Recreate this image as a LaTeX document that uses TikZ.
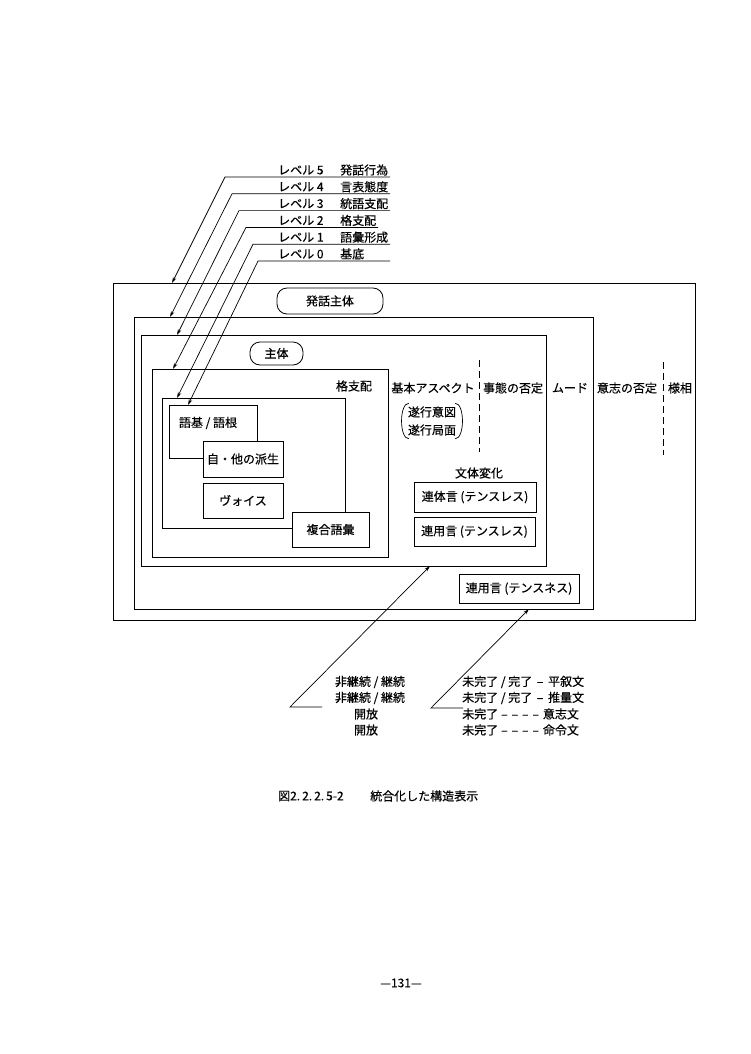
\documentclass[tikz,border=0pt]{standalone}
\usepackage{fontspec}
\setmainfont{Noto Sans CJK JP}[FakeBold=0.4]
\usetikzlibrary{arrows.meta}
\newcommand\jpsize{\fontsize{12}{14.5}\selectfont}
\newcommand\dashrow{\hspace{3pt}–\hspace{4pt}–\hspace{4pt}–\hspace{4pt}–\hspace{4pt}}
\tikzset{
  boxframe/.style={draw, line width=0.8pt, inner sep=0pt},
  wbox/.style={draw, fill=white, line width=0.8pt, inner sep=0pt},
  rbox/.style={draw, fill=white, rounded corners=10pt, line width=0.8pt, inner sep=0pt},
  txt/.style={inner sep=0pt},
  arr/.style={line width=0.7pt, -{Stealth[length=6pt,width=3.5pt]}},
  dsh/.style={line width=0.8pt, dash pattern=on 7pt off 4pt},
}
\begin{document}
\begin{tikzpicture}[x=1pt,y=-1pt,font=\jpsize]
\useasboundingbox[fill=white] (0,0) rectangle (750,1054);

% nested frames
\node[boxframe, minimum width=582, minimum height=337] (b5) at (404,451.5) {};
\node[boxframe, minimum width=459, minimum height=292] (b4) at (363.5,463) {};
\node[boxframe, minimum width=405, minimum height=231] (b3) at (343.5,450.5) {};
\node[boxframe, minimum width=236, minimum height=188] (b2) at (270,463) {};
\node[boxframe, minimum width=183, minimum height=130] (b1) at (253.5,463) {};
\node[boxframe, minimum width=88, minimum height=53] (b0) at (213,431.5) {};
\node[txt] (gokon) at (208,423) {語基 / 語根};
\node[wbox, minimum width=80, minimum height=36] (jita) at (243,459) {自・他の派生};
\node[wbox, minimum width=80, minimum height=35] (voice) at (243,500.5) {ヴォイス};
\node[wbox, minimum width=77, minimum height=35] (fukugo) at (330.5,529.5) {複合語彙};

\node[rbox, minimum width=106, minimum height=26] (hatsuwa) at (330,301) {発話主体};
\node[rbox, minimum width=53, minimum height=23] (shutai) at (276.5,353.5) {主体};
\node[txt] (kaku) at (354,386) {格支配};

% row of categories
\node[txt] (aspect) at (433,388) {基本アスペクト};
\node[txt] (jitai) at (513,388) {事態の否定};
\node[txt] (mood) at (570,388) {ムード};
\node[txt] (ishi) at (627,388) {意志の否定};
\node[txt] (yoso) at (680,388) {様相};
\draw[dsh] (479,360) -- (479,452);
\draw[dsh] (663,362) -- (663,455);

\node[txt, align=center, font=\fontsize{12}{18}\selectfont] (suikou) at (432,421) {遂行意図\\遂行局面};
\draw[line width=0.7pt] ([xshift=1pt,yshift=3pt]suikou.north west) to[out=180,in=180,looseness=0.7] ([xshift=1pt,yshift=-3pt]suikou.south west);
\draw[line width=0.7pt] ([xshift=-1pt,yshift=3pt]suikou.north east) to[out=0,in=0,looseness=0.7] ([xshift=-1pt,yshift=-3pt]suikou.south east);

\node[txt] (buntai) at (479,473) {文体変化};
\node[boxframe, minimum width=122, minimum height=30] (rentai) at (475,497) {連体言 (テンスレス)};
\node[boxframe, minimum width=121, minimum height=29] (renyo1) at (474.5,531.5) {連用言 (テンスレス)};
\node[boxframe, minimum width=120, minimum height=29] (renyo2) at (519,588.5) {連用言 (テンスネス)};

% level labels
\node[txt, anchor=west] (lv5) at (278,170) {レベル 5};
\node[txt, anchor=west] (tm5) at (340,170) {発話行為};
\node[txt, anchor=west] (lv4) at (278,186.8) {レベル 4};
\node[txt, anchor=west] (tm4) at (340,186.8) {言表態度};
\node[txt, anchor=west] (lv3) at (278,203.6) {レベル 3};
\node[txt, anchor=west] (tm3) at (340,203.6) {統語支配};
\node[txt, anchor=west] (lv2) at (278,220.4) {レベル 2};
\node[txt, anchor=west] (tm2) at (340,220.4) {格支配};
\node[txt, anchor=west] (lv1) at (278,237.2) {レベル 1};
\node[txt, anchor=west] (tm1) at (340,237.2) {語彙形成};
\node[txt, anchor=west] (lv0) at (278,254) {レベル 0};
\node[txt, anchor=west] (tm0) at (340,254) {基底};

\coordinate (e5) at (390,177);   \coordinate (s5) at (225,177);   \coordinate (a5) at (172,283);
\coordinate (e4) at (390,193.8); \coordinate (s4) at (232,193.8); \coordinate (a4) at (170,317);
\coordinate (e3) at (390,210.6); \coordinate (s3) at (239,210.6); \coordinate (a3) at (177,335);
\coordinate (e2) at (378,227.4); \coordinate (s2) at (246,227.4); \coordinate (a2) at (173,369);
\coordinate (e1) at (390,244.2); \coordinate (s1) at (253,244.2); \coordinate (a1) at (177,398);
\coordinate (e0) at (390,261);   \coordinate (s0) at (258,261);   \coordinate (a0) at (188,405);
\draw[arr] (e5) -- (s5) -- (a5);
\draw[arr] (e4) -- (s4) -- (a4);
\draw[arr] (e3) -- (s3) -- (a3);
\draw[arr] (e2) -- (s2) -- (a2);
\draw[arr] (e1) -- (s1) -- (a1);
\draw[arr] (e0) -- (s0) -- (a0);

% bottom annotations
\node[txt] (l1) at (370,682) {非継続 / 継続};
\node[txt] (l2) at (370,698) {非継続 / 継続};
\node[txt] (l3) at (366,714) {開放};
\node[txt] (l4) at (366,730) {開放};
\node[txt, anchor=west] (r1) at (462,682) {未完了 / 完了 \,–\, 平叙文};
\node[txt, anchor=west] (r2) at (462,698) {未完了 / 完了 \,–\, 推量文};
\node[txt, anchor=west] (r3) at (462,714) {未完了\dashrow 意志文};
\node[txt, anchor=west] (r4) at (462,730) {未完了\dashrow 命令文};

\coordinate (lh) at (322,707); \coordinate (lc) at (290,707); \coordinate (lt) at (430,566);
\draw[arr] (lh) -- (lc) -- (lt);
\coordinate (rh) at (463,708); \coordinate (rc) at (431,708); \coordinate (rt) at (529,609);
\draw[arr] (rh) -- (rc) -- (rt);

% caption and page number
\node[txt, anchor=west] (fig) at (278,796) {図2.\,2.\,2.\,5-2};
\node[txt, anchor=west] (cap) at (370,796) {統合化した構造表示};
\node[txt] (page) at (401,983) {—131—};
\end{tikzpicture}
\end{document}
